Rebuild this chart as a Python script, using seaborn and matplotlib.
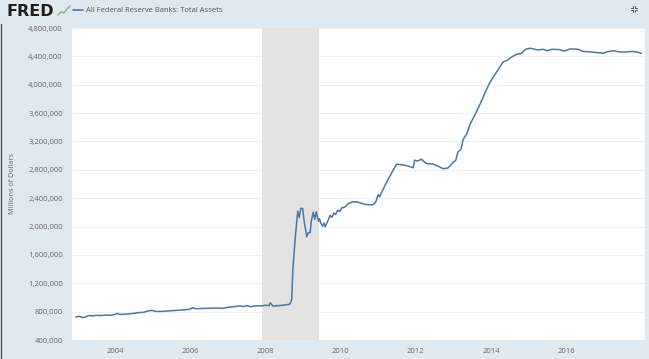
import matplotlib
matplotlib.use("Agg")
import matplotlib.pyplot as plt
import seaborn as sns
import pandas as pd

years = [2002.96,2003.04,2003.12,2003.2,2003.3,2003.4,2003.5,2003.62,2003.75,2003.88,2004.0,2004.06,2004.14,2004.3,2004.45,2004.6,2004.75,2004.9,2004.98,2005.1,2005.3,2005.5,2005.7,2005.9,2006.0,2006.06,2006.15,2006.3,2006.5,2006.7,2006.9,2007.0,2007.15,2007.3,2007.42,2007.5,2007.6,2007.75,2007.9,2008.0,2008.1,2008.13,2008.2,2008.35,2008.5,2008.65,2008.7,2008.73,2008.79,2008.86,2008.9,2008.94,2008.99,2009.03,2009.1,2009.14,2009.19,2009.22,2009.27,2009.31,2009.35,2009.41,2009.44,2009.47,2009.52,2009.56,2009.59,2009.66,2009.72,2009.77,2009.82,2009.87,2009.92,2009.98,2010.03,2010.1,2010.2,2010.33,2010.45,2010.65,2010.85,2010.93,2011.0,2011.04,2011.08,2011.2,2011.35,2011.49,2011.62,2011.75,2011.93,2011.97,2012.05,2012.15,2012.28,2012.38,2012.46,2012.6,2012.73,2012.85,2012.92,2013.0,2013.06,2013.12,2013.2,2013.26,2013.35,2013.45,2013.55,2013.65,2013.79,2013.85,2013.97,2014.05,2014.15,2014.32,2014.45,2014.55,2014.68,2014.8,2014.92,2015.04,2015.12,2015.25,2015.38,2015.5,2015.62,2015.82,2015.95,2016.1,2016.31,2016.45,2016.6,2016.8,2016.98,2017.1,2017.25,2017.4,2017.55,2017.75,2017.9,2018.0]
total_assets = [725,735,718,722,745,740,748,745,752,748,760,775,760,765,772,785,790,812,818,802,805,812,820,828,835,855,842,845,848,850,848,862,868,880,872,885,870,882,880,890,885,925,880,885,892,905,970,1394,1818,2218,2128,2256,2256,2076,1857,1914,1914,2076,2200,2100,2210,2076,2110,2050,2005,2050,1995,2080,2157,2130,2190,2170,2230,2210,2265,2270,2320,2350,2345,2312,2305,2340,2450,2420,2470,2600,2750,2880,2870,2860,2830,2935,2925,2950,2888,2885,2880,2850,2815,2825,2860,2910,2930,3050,3090,3230,3300,3450,3550,3660,3820,3900,4030,4100,4180,4320,4350,4390,4430,4440,4500,4515,4505,4490,4500,4480,4500,4495,4475,4505,4500,4470,4465,4455,4445,4465,4480,4465,4460,4470,4460,4440]
y_ticks = [400,800,1200,1600,2000,2400,2800,3200,3600,4000,4400,4800]
x_ticks = [2004,2006,2008,2010,2012,2014,2016]
recession = [2007.92, 2009.42]

BG = "#e1e9f0"
LINE = "#4a76a8"
TXT = "#666666"

sns.set_theme(style="white")
plt.rcParams["font.family"] = ["Open Sans", "DejaVu Sans"]

fig = plt.figure(figsize=(6.49, 3.59), dpi=100, facecolor=BG)
ax = fig.add_axes([72/649, 1-340/359, (645-72)/649, (340-28)/359])
ax.set_facecolor("white")

ax.axvspan(recession[0], recession[1], color="#e3e3e3", lw=0, zorder=1)
df = pd.DataFrame({"year": years, "assets": [v*1000 for v in total_assets]})
sns.lineplot(data=df, x="year", y="assets", ax=ax, color=LINE, lw=1.1, zorder=3)

ax.set_xlim(2002.856, 2018.096)
ax.set_ylim(400000, 4800000)
ax.set_yticks([v*1000 for v in y_ticks])
ax.set_yticklabels([f"{v*1000:,}" for v in y_ticks])
ax.set_xticks(x_ticks)
ax.set_xticklabels([str(v) for v in x_ticks])
ax.grid(axis="y", color="#f0f0f0", lw=0.8, zorder=0)
ax.set_axisbelow(True)
ax.tick_params(axis="y", length=0, labelsize=5.5, labelcolor=TXT, pad=6.5)
ax.tick_params(axis="x", length=0, labelsize=5.5, labelcolor=TXT, pad=5.5)
ax.set_xlabel("")
ax.set_ylabel("Millions of Dollars", fontsize=5.2, color=TXT)
ax.yaxis.set_label_coords((16-72)/573, 0.5)
for s in ax.spines.values():
    s.set_visible(False)

# header
fig.text(7/649, 1-11/359, "FRED", fontsize=11.5, fontweight="bold", color="#1f1f1f", va="center", ha="left", family="DejaVu Sans")
fig.add_artist(plt.Line2D([58/649, 61/649, 64/649, 67/649, 70/649],
                          [1-15/359, 1-12/359, 1-13/359, 1-9/359, 1-6/359], color="#8fa98f", lw=1.0))
fig.add_artist(plt.Line2D([73/649, 83/649], [1-10/359, 1-10/359], color=LINE, lw=1.2))
fig.text(86/649, 1-10.5/359, "All Federal Reserve Banks: Total Assets", fontsize=5.5, color="#555555", va="center", ha="left")
# expand icon (corner brackets; no installed font has this symbol)
cx, cy, r, g = 633.5, 9, 3, 1
for sx in (-1, 1):
    for sy in (-1, 1):
        fig.add_artist(plt.Line2D([(cx+sx*r)/649, (cx+sx*g)/649, (cx+sx*g)/649],
                                  [1-(cy+sy*g)/359, 1-(cy+sy*g)/359, 1-(cy+sy*r)/359],
                                  color="#555555", lw=0.7))
# dark strip at the left edge
fig.add_artist(plt.Line2D([0.5/649, 0.5/649], [0, 1-24/359], color="#555555", lw=1.0))

fig.savefig("out.png", dpi=100, facecolor=BG)
